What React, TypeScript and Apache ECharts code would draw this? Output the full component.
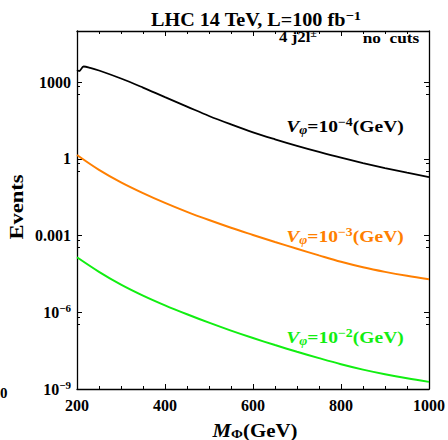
import React, { useEffect, useRef } from 'react';
import * as echarts from 'echarts';

// Black: V_phi = 1e-4 GeV
const massBlack = [200, 205, 215, 230, 250, 300, 350, 400, 450, 500, 550, 600, 650, 700, 750, 800, 850, 900, 950, 1000];
const eventsBlack = [2985, 2729, 4093, 3640, 2858, 1390, 612, 258, 111, 47.4, 22.2, 10.9, 5.83, 3.24, 1.87, 1.11, 0.685, 0.438, 0.289, 0.195];

// Orange (1e-3 GeV) and green (1e-2 GeV)
const massGrid = [200, 250, 300, 350, 400, 450, 500, 550, 600, 650, 700, 750, 800, 850, 900, 950, 1000];
const eventsOrange = [1.42, 0.373, 0.121, 0.0459, 0.0189, 0.00843, 0.00404, 0.00202, 0.00106, 5.62e-4, 3.05e-4, 1.68e-4, 9.44e-5, 5.75e-5, 3.8e-5, 2.66e-5, 1.95e-5];
const eventsGreen = [1.42e-4, 3.83e-5, 1.21e-5, 4.5e-6, 1.87e-6, 8.37e-7, 3.92e-7, 1.92e-7, 9.84e-8, 5.22e-8, 2.87e-8, 1.61e-8, 9.29e-9, 5.73e-9, 3.78e-9, 2.62e-9, 1.9e-9];

const yTickExps = [-9, -6, -3, 0, 3];
const yTickLabels = ['{n|10}{s|−9}', '{n|10}{s|−6}', '{n|0.001}', '{n|1}', '{n|1000}'];

const F = '"Liberation Serif", "DejaVu Serif", "Times New Roman", serif';
const BLACK = '#000000';
const ORANGE = '#ff7f00';
const GREEN = '#11ee11';

function pairs(xs: number[], ys: number[]) {
  return xs.map((x, i) => [x, ys[i]]);
}

function vLabel(exp: string, color: string, x: number, y: number) {
  return {
    type: 'text',
    x,
    y,
    scaleX: 1.15,
    style: {
      text: `{v|V}{sub|φ}{n|=10}{sup|−${exp}}{n|(GeV)}`,
      align: 'center',
      verticalAlign: 'middle',
      fill: color,
      rich: {
        v: { fontFamily: F, fontSize: 17, fontWeight: 'bold', fontStyle: 'italic', fill: color },
        sub: { fontFamily: F, fontSize: 12, fontWeight: 'bold', fontStyle: 'italic', fill: color, padding: [8, 0, 0, 0] },
        n: { fontFamily: F, fontSize: 17, fontWeight: 'bold', fill: color },
        sup: { fontFamily: F, fontSize: 12, fontWeight: 'bold', fill: color, padding: [0, 0, 9, 0] },
      },
    },
  };
}

export default function App() {
  const ref = useRef<HTMLDivElement>(null);
  useEffect(() => {
    if (!ref.current) return;
    const chart = echarts.init(ref.current, null, { renderer: 'svg' });
    const xCommon = {
      type: 'value',
      min: 200,
      max: 1000,
      interval: 200,
      axisLine: { onZero: false, lineStyle: { color: BLACK, width: 1.3 } },
      axisTick: { inside: true, length: 5, lineStyle: { color: BLACK, width: 1 } },
      minorTick: { show: true, splitNumber: 4, length: 3, lineStyle: { color: BLACK, width: 1 } },
      splitLine: { show: false },
      minorSplitLine: { show: false },
    };
    const yCommon = {
      type: 'log',
      logBase: 10,
      min: 1e-9,
      max: 1e5,
      interval: 3,
      axisLine: { onZero: false, lineStyle: { color: BLACK, width: 1.3 } },
      axisTick: { inside: true, length: 5, lineStyle: { color: BLACK, width: 1 } },
      minorTick: { show: true, splitNumber: 3, length: 3, lineStyle: { color: BLACK, width: 1 } },
      splitLine: { show: false },
      minorSplitLine: { show: false },
    };
    const option: any = {
      animation: false,
      grid: { left: 77, right: 11, top: 31, bottom: 51, containLabel: false },
      xAxis: [
        {
          ...xCommon,
          position: 'bottom',
          axisLabel: {
            color: BLACK,
            fontFamily: F,
            fontWeight: 'bold',
            fontSize: 16,
            margin: 8,
            formatter: (v: number) => String(v),
          },
        },
        { ...xCommon, position: 'top', axisLabel: { show: false } },
      ],
      yAxis: [
        {
          ...yCommon,
          position: 'left',
          axisLabel: {
            margin: 6,
            formatter: (v: number) => {
              const e = Math.round(Math.log10(v));
              const i = yTickExps.indexOf(e);
              return i >= 0 ? yTickLabels[i] : '';
            },
            rich: {
              n: { fontFamily: F, fontWeight: 'bold', fontSize: 16, color: BLACK },
              s: { fontFamily: F, fontWeight: 'bold', fontSize: 11, color: BLACK, padding: [0, 0, 9, 0] },
            },
          },
        },
        { ...yCommon, position: 'right', axisLabel: { show: false } },
      ],
      series: [
        {
          type: 'line',
          data: pairs(massBlack, eventsBlack),
          showSymbol: false,
          smooth: 0.35,
          lineStyle: { color: BLACK, width: 1.8 },
          xAxisIndex: 0,
          yAxisIndex: 0,
        },
        {
          type: 'line',
          data: pairs(massGrid, eventsOrange),
          showSymbol: false,
          smooth: 0.35,
          lineStyle: { color: ORANGE, width: 2 },
          xAxisIndex: 0,
          yAxisIndex: 0,
        },
        {
          type: 'line',
          data: pairs(massGrid, eventsGreen),
          showSymbol: false,
          smooth: 0.35,
          lineStyle: { color: GREEN, width: 2 },
          xAxisIndex: 0,
          yAxisIndex: 0,
        },
      ],
      graphic: [
        {
          type: 'text',
          x: 256,
          y: 20,
          scaleX: 1.12,
          style: {
            text: '{t|LHC 14 TeV, L=100 fb}{s|−1}',
            align: 'center',
            verticalAlign: 'middle',
            fill: BLACK,
            rich: {
              t: { fontFamily: F, fontSize: 18, fontWeight: 'bold', fill: BLACK },
              s: { fontFamily: F, fontSize: 13, fontWeight: 'bold', fill: BLACK, padding: [0, 0, 9, 0] },
            },
          },
        },
        {
          type: 'text',
          x: 298,
          y: 37,
          scaleX: 1.2,
          style: {
            text: '{t|4 j2l}{s|±}',
            align: 'center',
            verticalAlign: 'middle',
            fill: BLACK,
            rich: {
              t: { fontFamily: F, fontSize: 14, fontWeight: 'bold', fill: BLACK },
              s: { fontFamily: F, fontSize: 10, fontWeight: 'bold', fill: BLACK, padding: [0, 0, 7, 0] },
            },
          },
        },
        {
          type: 'text',
          x: 391,
          y: 38,
          scaleX: 1.15,
          style: { text: 'no  cuts', align: 'center', verticalAlign: 'middle', fill: BLACK, fontFamily: F, fontSize: 15, fontWeight: 'bold' },
        },
        vLabel('4', BLACK, 345, 126),
        vLabel('3', ORANGE, 345, 236),
        vLabel('2', GREEN, 345, 337),
        {
          type: 'text',
          x: 17,
          y: 207,
          rotation: Math.PI / 2,
          scaleX: 1.25,
          style: { text: 'Events', align: 'center', verticalAlign: 'middle', fill: BLACK, fontFamily: F, fontSize: 18, fontWeight: 'bold' },
        },
        {
          type: 'text',
          x: 255,
          y: 430,
          scaleX: 1.1,
          style: {
            text: '{m|M}{sub|Φ}{n|(GeV)}',
            align: 'center',
            verticalAlign: 'middle',
            fill: BLACK,
            rich: {
              m: { fontFamily: F, fontSize: 19, fontWeight: 'bold', fontStyle: 'italic', fill: BLACK },
              sub: { fontFamily: F, fontSize: 13, fontWeight: 'bold', fill: BLACK, padding: [7, 0, 0, 0] },
              n: { fontFamily: F, fontSize: 19, fontWeight: 'bold', fill: BLACK },
            },
          },
        },
        {
          type: 'text',
          x: 0,
          y: 393,
          style: { text: '0', align: 'left', verticalAlign: 'middle', fill: BLACK, fontFamily: F, fontSize: 15, fontWeight: 'bold' },
        },
      ],
    };
    chart.setOption(option);
    return () => chart.dispose();
  }, []);
  return <div ref={ref} style={{ position: 'absolute', left: 0, top: 0, width: 448, height: 440 }} />;
}
